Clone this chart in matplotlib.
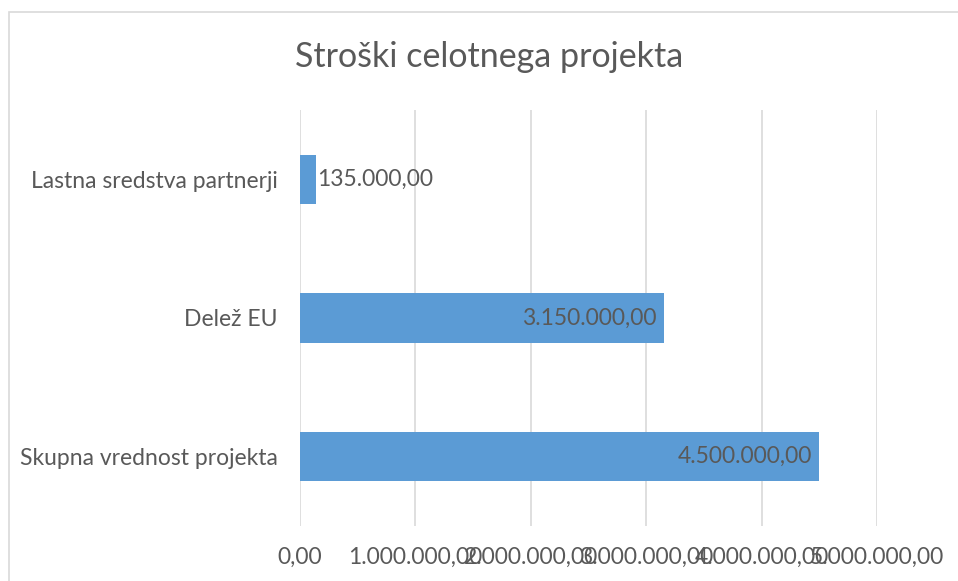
import matplotlib.pyplot as plt
from matplotlib.patches import Rectangle

# podatki
kategorije = ['Skupna vrednost projekta', 'Delež EU', 'Lastna sredstva partnerji']
vrednosti = [4500000, 3150000, 135000]
x_ticks = [0, 1000000, 2000000, 3000000, 4000000, 5000000]


def fmt(v):
    # slovenski zapis: 4.500.000,00
    s = f'{v:,.2f}'
    return s.replace(',', 'X').replace('.', ',').replace('X', '.')


plt.rcParams['font.family'] = ['Lato', 'DejaVu Sans']
siva = '#595959'
modra = '#5B9BD5'
fs = 16.5

fig = plt.figure(figsize=(9.58, 5.81), dpi=100)
ax = fig.add_axes([300 / 958, 1 - 526 / 581, 577 / 958, 416 / 581])

# okvir grafa (desni in spodnji rob sta odrezana)
fig.patches.append(Rectangle((9 / 958, -0.05), 1.1, 1 - 12 / 581 + 0.05,
                             transform=fig.transFigure, fill=False,
                             edgecolor='#D9D9D9', linewidth=1.2))

y = range(len(kategorije))
bars = ax.barh(y, vrednosti, height=0.355, color=modra, zorder=3)

ax.set_xlim(0, 5000000)
ax.set_ylim(-0.5, 2.5)
ax.set_yticks(list(y))
ax.set_yticklabels(kategorije, fontsize=fs, color=siva)
ax.set_xticks(x_ticks)
ax.set_xticklabels([fmt(t) for t in x_ticks], fontsize=fs, color=siva)
ax.tick_params(length=0)
ax.tick_params(axis='y', pad=16)
ax.tick_params(axis='x', pad=15)
ax.grid(axis='x', color='#D9D9D9', linewidth=1.2, zorder=0)
for s in ax.spines.values():
    s.set_visible(False)

# oznake vrednosti
for b, v in zip(bars, vrednosti):
    yc = b.get_y() + b.get_height() / 2
    if v > 1000000:
        ax.annotate(fmt(v), (v, yc), xytext=(-5, 0), textcoords='offset points',
                    ha='right', va='center', fontsize=fs, color=siva, zorder=4)
    else:
        ax.annotate(fmt(v), (v, yc), xytext=(1, 0), textcoords='offset points',
                    ha='left', va='center', fontsize=fs, color=siva, zorder=4)

fig.text(489 / 958, 1 - 57 / 581, 'Stroški celotnega projekta', ha='center',
         va='center', fontsize=24.5, color=siva)

fig.savefig('out.png', dpi=100)
